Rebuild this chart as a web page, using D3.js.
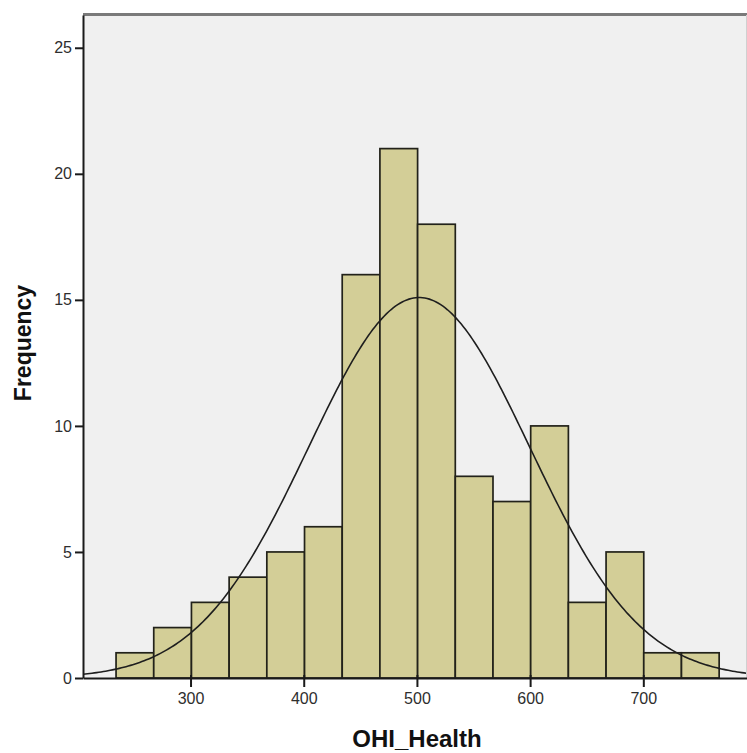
<!DOCTYPE html>
<html>
<head>
<meta charset="utf-8">
<script src="https://cdn.jsdelivr.net/npm/d3@7"></script>
<style>
  body { margin: 0; background: #fff; }
  text { font-family: "Liberation Sans", Arial, sans-serif; }
</style>
</head>
<body>
<div id="chart"></div>
<script>
// histogram of OHI_Health with fitted normal curve

// data
var binStart = 234.2;
var binWidth = 33.3;
var counts = [1, 2, 3, 4, 5, 6, 16, 21, 18, 8, 7, 10, 3, 5, 1, 1];
var xTicks = [300, 400, 500, 600, 700];
var yTicks = [0, 5, 10, 15, 20, 25];
var fitMean = 502;
var fitSd = 97.7;

var W = 747, H = 753;
var plot = {left: 83, top: 15, right: 747, bottom: 678};

var bins = counts.map(function(c, i) {
   return {x0: binStart + i * binWidth, x1: binStart + (i + 1) * binWidth, n: c};
});
var total = d3.sum(counts);

var xScale = d3.scaleLinear().domain([205, 791.6]).range([plot.left, plot.right]);
var yScale = d3.scaleLinear().domain([0, 26.3]).range([plot.bottom, plot.top]);

var svg = d3.select("#chart").append("svg")
   .attr("width", W).attr("height", H);

svg.append("defs").append("clipPath").attr("id", "plot-clip")
   .append("rect")
   .attr("x", plot.left).attr("y", plot.top)
   .attr("width", plot.right - plot.left).attr("height", plot.bottom - plot.top);

// plot background
svg.append("rect")
   .attr("x", plot.left).attr("y", plot.top)
   .attr("width", plot.right - plot.left).attr("height", plot.bottom - plot.top)
   .attr("fill", "#f0f0f0");

// bars
svg.append("g").attr("class", "bars")
   .selectAll("rect").data(bins).enter()
   .append("rect")
   .attr("x", function(d) { return xScale(d.x0); })
   .attr("y", function(d) { return yScale(d.n); })
   .attr("width", function(d) { return xScale(d.x1) - xScale(d.x0); })
   .attr("height", function(d) { return yScale(0) - yScale(d.n); })
   .attr("fill", "#d3ce97")
   .attr("stroke", "#22221a")
   .attr("stroke-width", 1.7);

// normal curve
var curveX = d3.range(xScale.domain()[0], xScale.domain()[1] + 1, 2);
var normal = function(x) {
   var z = (x - fitMean) / fitSd;
   return total * binWidth / (fitSd * Math.sqrt(2 * Math.PI)) * Math.exp(-0.5 * z * z);
};
svg.append("path")
   .datum(curveX)
   .attr("clip-path", "url(#plot-clip)")
   .attr("fill", "none")
   .attr("stroke", "#1e1e1e")
   .attr("stroke-width", 1.6)
   .attr("d", d3.line().x(function(d) { return xScale(d); }).y(function(d) { return yScale(normal(d)); }));

// frame: grey top and right, black left and bottom
svg.append("line")
   .attr("x1", plot.left).attr("x2", plot.right)
   .attr("y1", plot.top - 0.5).attr("y2", plot.top - 0.5)
   .attr("stroke", "#7a7a7a").attr("stroke-width", 3);
svg.append("line")
   .attr("x1", plot.right - 0.5).attr("x2", plot.right - 0.5)
   .attr("y1", plot.top).attr("y2", plot.bottom)
   .attr("stroke", "#d0d0d0").attr("stroke-width", 1);

// axes
var xAxis = d3.axisBottom(xScale).tickValues(xTicks).tickSize(9).tickPadding(6).tickSizeOuter(0);
var yAxis = d3.axisLeft(yScale).tickValues(yTicks).tickSize(8).tickPadding(3).tickSizeOuter(0);

var gx = svg.append("g").attr("class", "x-axis")
   .attr("transform", "translate(0," + plot.bottom + ")")
   .call(xAxis);
var gy = svg.append("g").attr("class", "y-axis")
   .attr("transform", "translate(" + plot.left + ",0)")
   .call(yAxis);

svg.selectAll(".x-axis .domain, .y-axis .domain")
   .attr("stroke", "#1a1a1a").attr("stroke-width", 2);
svg.selectAll(".x-axis .tick line, .y-axis .tick line")
   .attr("stroke", "#1a1a1a").attr("stroke-width", 2);
svg.selectAll(".x-axis .tick line").attr("y1", -3);
svg.selectAll(".x-axis text, .y-axis text")
   .attr("fill", "#2e2e2e")
   .style("font-size", "16px")
   .style("font-family", "'Liberation Sans', Arial, sans-serif");

// axis titles
svg.append("text")
   .attr("x", 417).attr("y", 747)
   .attr("text-anchor", "middle")
   .style("font-size", "24px").style("font-weight", "bold")
   .attr("fill", "#111")
   .text("OHI_Health");
svg.append("text")
   .attr("transform", "translate(31,343) rotate(-90)")
   .attr("text-anchor", "middle")
   .style("font-size", "23px").style("font-weight", "bold")
   .attr("fill", "#111")
   .text("Frequency");
</script>
</body>
</html>
